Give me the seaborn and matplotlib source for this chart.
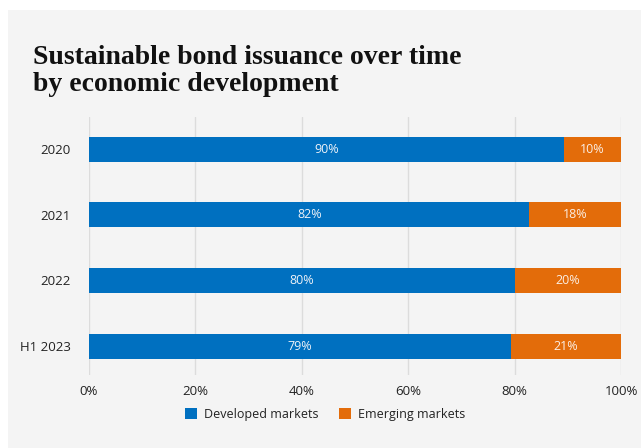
import matplotlib
matplotlib.use("Agg")
import matplotlib.pyplot as plt
import seaborn as sns
import pandas as pd
from matplotlib.patches import Rectangle
from matplotlib.ticker import FuncFormatter

categories = ["2020", "2021", "2022", "H1 2023"]
developed = [89.3, 82.8, 80.0, 79.3]
emerging = [10.7, 17.2, 20.0, 20.7]
developed_labels = ["90%", "82%", "80%", "79%"]
emerging_labels = ["10%", "18%", "20%", "21%"]
xticks = [0, 20, 40, 60, 80, 100]
series_names = ["Developed markets", "Emerging markets"]
colors = ["#0070c0", "#e36c0a"]

sns.set_theme(style="white")
plt.rcParams["font.family"] = ["Open Sans", "DejaVu Sans"]

W, H = 641, 448
fig = plt.figure(figsize=(W / 100, H / 100), dpi=100, facecolor="white")
fig.patches.append(Rectangle((8 / W, 0), 1, 1 - 10 / H, transform=fig.transFigure,
                             facecolor="#f4f4f4", edgecolor="none", zorder=-10))

ax = fig.add_axes([89 / W, 1 - 375 / H, (621 - 89) / W, (375 - 117) / H])
ax.set_facecolor("none")
ax.set_zorder(2)

df = pd.DataFrame({"cat": categories, "dev": developed, "em": emerging})
df["total"] = df["dev"] + df["em"]

sns.barplot(data=df, y="cat", x="total", color=colors[1], width=0.38, ax=ax,
            orient="h", saturation=1, linewidth=0, zorder=3)
sns.barplot(data=df, y="cat", x="dev", color=colors[0], width=0.38, ax=ax,
            orient="h", saturation=1, linewidth=0, zorder=3)

for i in range(len(categories)):
    ax.text(developed[i] / 2, i, developed_labels[i], ha="center", va="center",
            color="#eef2f8", fontsize=9, zorder=5)
    ax.text(developed[i] + emerging[i] / 2, i, emerging_labels[i], ha="center",
            va="center", color="#fbeee4", fontsize=9, zorder=5)

ax.set_xlim(0, 100)
ax.set_ylim(3.44, -0.49)
ax.set_xticks(xticks)
ax.xaxis.set_major_formatter(FuncFormatter(lambda v, p: f"{int(v)}%"))
ax.set_axisbelow(True)
ax.grid(axis="x", color="#dcdcdc", linewidth=1)
ax.grid(axis="y", visible=False)
for s in ax.spines.values():
    s.set_visible(False)
ax.tick_params(axis="both", length=0, labelsize=9.5, colors="#222222")
ax.tick_params(axis="y", pad=13)
ax.tick_params(axis="x", pad=7)
ax.set_xlabel("")
ax.set_ylabel("")
if ax.legend_:
    ax.legend_.remove()

handles = [Rectangle((0, 0), 1, 1, facecolor=c, edgecolor="none") for c in colors]
fig.legend(handles, series_names, loc="center", bbox_to_anchor=(325 / W, 1 - 414 / H),
           ncol=2, frameon=False, fontsize=9, handlelength=1.0, handleheight=1.0,
           handletextpad=0.55, columnspacing=1.6, labelcolor="#222222")

fig.text(33 / W, 1 - 45 / H, "Sustainable bond issuance over time\nby economic development",
         ha="left", va="top", fontsize=20, fontweight="bold",
         family=["Liberation Serif", "DejaVu Serif"], color="#111111", linespacing=1.1)

fig.savefig("out.png", dpi=100, facecolor="white")
